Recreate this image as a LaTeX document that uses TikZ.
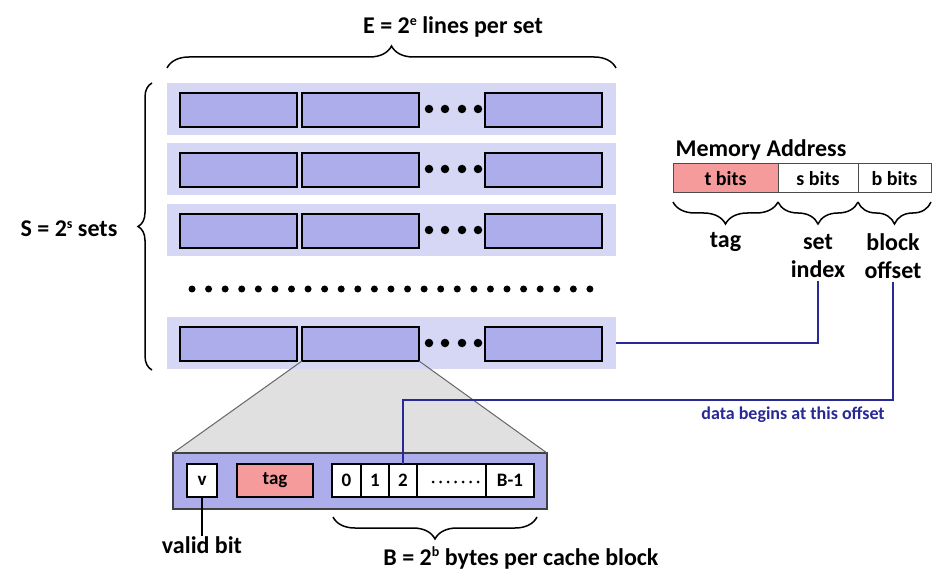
\documentclass[tikz,border=0pt]{standalone}
\usepackage{fontspec}
\setmainfont{Carlito}
\usetikzlibrary{decorations.pathreplacing,backgrounds}
\definecolor{setbg}{RGB}{214,214,245}
\definecolor{linefill}{RGB}{173,173,235}
\definecolor{pinkfill}{RGB}{246,155,155}
\definecolor{navy}{RGB}{40,40,150}
\definecolor{zoomgray}{RGB}{224,224,224}
\newcommand\supr[1]{\raisebox{8.5pt}{\fontsize{14}{14}\selectfont\bfseries #1}}
\begin{document}
\begin{tikzpicture}[x=1pt,y=-1pt,
  every node/.style={inner sep=0pt, outer sep=0pt},
  big/.style={font=\fontsize{24}{28}\selectfont\bfseries},
  mid/.style={font=\fontsize{20}{24}\selectfont\bfseries},
  small/.style={font=\fontsize{19}{22}\selectfont\bfseries},
  note/.style={font=\fontsize{18}{22}\selectfont\bfseries, text=navy},
  setrow/.style={fill=setbg, minimum width=449pt, minimum height=52pt, anchor=north west},
  linebox/.style={draw=black, fill=linefill, line width=2.5pt, minimum width=117pt, minimum height=34pt, anchor=north west},
  addrcell/.style={draw=black!70, line width=1pt, minimum height=29pt, anchor=north west, mid},
  cellbox/.style={draw=black, line width=2pt, minimum height=33pt, anchor=north west, small},
  curly/.style={decorate, decoration={brace, amplitude=#1}, line width=1.5pt},
  blueline/.style={draw=navy, line width=2pt},
  dot/.style={fill=black, circle, minimum size=#1}
]
\useasboundingbox (0,0) rectangle (951,588);

% sets
\foreach \i/\t in {1/83,2/143,3/204,4/317}{
  \node[setrow] (s\i) at (167,\t) {};
  \node[linebox] (s\i a) at (180,\t+10) {};
  \node[linebox] (s\i b) at (302,\t+10) {};
  \node[linebox] (s\i c) at (485,\t+10) {};
  \foreach \x in {429,445,462,478}{
    \node[dot=8.5pt] (d\i-\x) at (\x,\t+26) {};
  }
}
% dotted row
\foreach \k in {0,...,24}{
  \node[dot=7pt] (r\k) at (192+\k*16.58,289) {};
}

% braces and labels
\node[big] (E) at (453,27) {E = 2\supr{e} lines per set};
\draw[curly=22pt] (167,68) -- (616,68);
\node[big] (S) at (69,229) {S = 2\supr{s} sets};
\draw[curly=14pt] (152,370) -- (152,83);

% memory address
\node[big] (ma) at (761,150) {Memory Address};
\node[addrcell, fill=pinkfill, minimum width=105pt] (tb) at (673,164) {t bits};
\node[addrcell, fill=white, minimum width=80pt] (sb) at (778,164) {s bits};
\node[addrcell, fill=white, minimum width=73pt] (bb) at (858,164) {b bits};
\draw[curly=22pt] (778,202) -- (673,202);
\draw[curly=22pt] (858,202) -- (778,202);
\draw[curly=22pt] (931,202) -- (858,202);
\node[big] (tagl) at (725.5,242) {tag};
\node[big, align=center] (setidx) at (818,256) {set\\index};
\node[big, align=center] (blkoff) at (893,256) {block\\offset};

% zoomed cache line
\node[draw=black!75, line width=2.5pt, fill=linefill, minimum width=374pt, minimum height=56pt, anchor=north west] (cl) at (173,453) {};
\node[cellbox, fill=white, minimum width=30pt] (v) at (187,464) {v};
\node[cellbox, fill=pinkfill, minimum width=76pt] (tg) at (237,464) {tag};
\node[cellbox, fill=white, minimum width=29pt] (b0) at (332,464) {0};
\node[cellbox, fill=white, minimum width=28pt] (b1) at (361,464) {1};
\node[cellbox, fill=white, minimum width=28pt] (b2) at (389,464) {2};
\node[cellbox, fill=white, minimum width=69pt] (bd) at (417,464) {};
\node[cellbox, fill=white, minimum width=48pt] (bl) at (486,464) {B-1};
\foreach \k in {0,...,6}{
  \node[dot=3pt] (bdot\k) at (433+\k*7.5,482) {};
}
\begin{scope}[on background layer]
  \fill[zoomgray] (s4b.south west) -- (cl.north west) -- (cl.north east) -- (s4b.south east) -- cycle;
\end{scope}
\draw[black!60, line width=1pt] (s4b.south west) -- (cl.north west);
\draw[black!60, line width=1pt] (s4b.south east) -- (cl.north east);

\node[big] (vb) at (202,545) {valid bit};
\draw[line width=2pt] (v.south) -- (vb.north);
\draw[curly=22pt] (537,517) -- (333,517);
\node[big] (Bl) at (521,558) {B = 2\supr{b} bytes per cache block};

% connectors
\draw[blueline] (s4.east) -| ([yshift=-3pt]setidx.south);
\coordinate (bend) at (893,400);
\draw[blueline] ([yshift=-3pt]blkoff.south) -- (bend) -| (b2.north);
\node[note] (data) at (793,415) {data begins at this offset};
\end{tikzpicture}
\end{document}
